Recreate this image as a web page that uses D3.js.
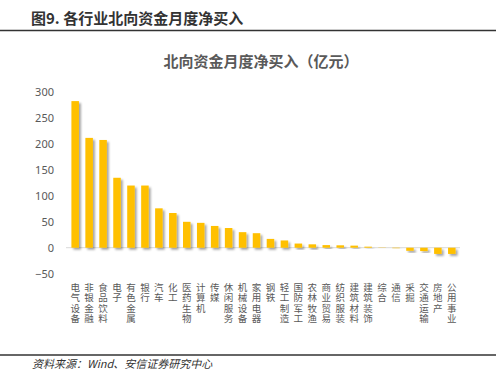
<!DOCTYPE html>
<html>
<head>
<meta charset="utf-8">
<script src="https://cdn.jsdelivr.net/npm/d3@7"></script>
<style>
  body { margin: 0; background: #fff; }
  text { font-family: "Noto Sans CJK SC", "Noto Sans", sans-serif; }
</style>
</head>
<body>
<div id="chart"></div>
<script>
// industries, in the order shown
var categories = ["电气设备", "非银金融", "食品饮料", "电子", "有色金属", "银行", "汽车", "化工",
  "医药生物", "计算机", "传媒", "休闲服务", "机械设备", "家用电器", "钢铁", "轻工制造",
  "国防军工", "农林牧渔", "商业贸易", "纺织服装", "建筑材料", "建筑装饰", "综合", "通信",
  "采掘", "交通运输", "房地产", "公用事业"];
// monthly net buy, 亿元
var values = [283, 212, 208, 135, 120, 120, 76, 67, 50, 48, 42, 38, 30, 28, 17, 14,
  8, 6.5, 5, 4.6, 4, 2, 0.5, -1, -6, -6.5, -12, -12];
var yTicks = [-50, 0, 50, 100, 150, 200, 250, 300];

var W = 496, H = 385;
var data = categories.map(function(c, i) { return {x: c, y: values[i]}; });

var svg = d3.select("#chart").append("svg")
  .attr("width", W).attr("height", H);

var defs = svg.append("defs");
var f = defs.append("filter").attr("id", "shadow")
  .attr("x", "-50%").attr("y", "-50%").attr("width", "200%").attr("height", "200%");
f.append("feDropShadow").attr("dx", 2).attr("dy", 2).attr("stdDeviation", 1)
  .attr("flood-color", "#000").attr("flood-opacity", 0.35);

// header
svg.append("text").attr("x", 31).attr("y", 24)
  .attr("font-size", 15).attr("font-weight", "bold").attr("fill", "#333")
  .text("图9. 各行业北向资金月度净买入");
svg.append("line").attr("x1", 0).attr("x2", W).attr("y1", 30.5).attr("y2", 30.5)
  .attr("stroke", "#333").attr("stroke-width", 1.5);

// chart title
svg.append("text").attr("x", 261).attr("y", 67).attr("text-anchor", "middle")
  .attr("font-size", 15).attr("font-weight", "bold").attr("fill", "#595959")
  .text("北向资金月度净买入（亿元）");

var x = d3.scaleBand()
  .domain(categories)
  .range([65, 462])
  .padding(0.46);

var y = d3.scaleLinear()
  .domain([-50, 300])
  .range([273.6, 92.3]);

// y axis labels only
var yAxis = svg.append("g")
  .attr("transform", "translate(58,0)")
  .call(d3.axisLeft(y).tickValues(yTicks).tickSize(0).tickPadding(4));
yAxis.select(".domain").remove();
yAxis.selectAll("text").attr("font-size", 11).attr("fill", "#595959")
  .style("font-family", "'Noto Sans', sans-serif");

// zero line
svg.append("line")
  .attr("x1", 66).attr("x2", 460)
  .attr("y1", y(0)).attr("y2", y(0))
  .attr("stroke", "#d9d9d9").attr("stroke-width", 1);

// bars
svg.selectAll(".bar")
  .data(data)
  .enter()
  .append("rect")
    .attr("class", "bar")
    .attr("x", function(d) { return x(d.x); })
    .attr("y", function(d) { return y(Math.max(0, d.y)); })
    .attr("width", x.bandwidth())
    .attr("height", function(d) { return Math.abs(y(d.y) - y(0)); })
    .attr("fill", "#FFC000")
    .attr("filter", "url(#shadow)");

// category labels, one character per line
var chars = [];
categories.forEach(function(c) {
  c.split("").forEach(function(ch, i) { chars.push({cat: c, ch: ch, i: i}); });
});
svg.append("g").selectAll("text")
  .data(chars)
  .enter()
  .append("text")
    .attr("x", function(d) { return x(d.cat) + x.bandwidth() / 2; })
    .attr("y", function(d) { return 291 + d.i * 10.3; })
    .attr("text-anchor", "middle")
    .attr("font-size", 9.5)
    .attr("fill", "#595959")
    .text(function(d) { return d.ch; });

// footer
svg.append("line").attr("x1", 0).attr("x2", W).attr("y1", 355).attr("y2", 355)
  .attr("stroke", "#333").attr("stroke-width", 1.5);
svg.append("text").attr("x", 32).attr("y", 368)
  .attr("font-size", 11).attr("fill", "#333").attr("font-style", "italic")
  .text("资料来源：Wind、安信证券研究中心");
</script>
</body>
</html>
